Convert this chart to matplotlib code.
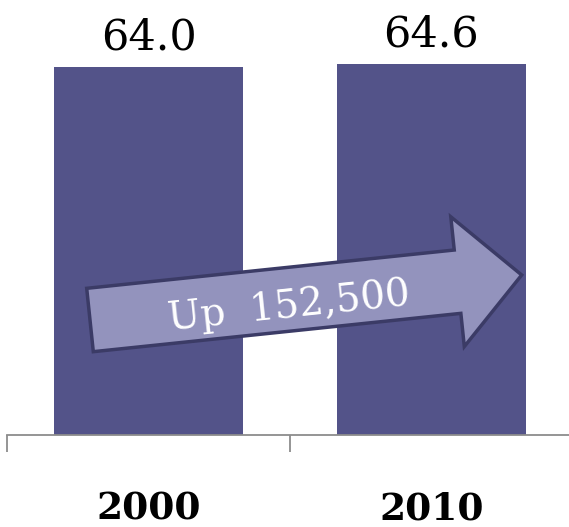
import matplotlib.pyplot as plt
from matplotlib.patches import FancyArrow

# Data
years = ['2000', '2010']
values = [64.0, 64.6]
change_label = 'Up  152,500'

bar_color = '#535389'
arrow_fill = '#9393bd'
arrow_edge = '#3b3b66'

fig = plt.figure(figsize=(5.69, 5.27), dpi=100)
# axes run a little past the right edge, like the original
ax = fig.add_axes([7 / 569, 1 - 435 / 527, 566 / 569, 435 / 527])

x = range(len(years))
bars = ax.bar(x, values, width=0.667, color=bar_color)
ax.bar_label(bars, labels=[f'{v:.1f}' for v in values], padding=6,
             fontsize=31, family='DejaVu Serif')

ax.set_xlim(-0.5, 1.5)
ax.set_ylim(0, 75.7)

for side in ['top', 'right', 'left']:
    ax.spines[side].set_visible(False)
ax.spines['bottom'].set_color('#8c8c8c')
ax.spines['bottom'].set_linewidth(1.3)
ax.set_yticks([])

# category boundary ticks, labels in between
ax.set_xticks([-0.5, 0.5, 1.5], minor=True)
ax.tick_params(axis='x', which='minor', length=12.5, width=1.3, color='#8c8c8c')
ax.set_xticks(list(x), labels=years)
ax.tick_params(axis='x', which='major', length=0, pad=40)
for lbl in ax.get_xticklabels():
    lbl.set_fontsize(27)
    lbl.set_fontweight('bold')
    lbl.set_family('DejaVu Serif')

# overlay in pixel coords for the arrow annotation
ov = fig.add_axes([0, 0, 1, 1])
ov.set_xlim(0, 569)
ov.set_ylim(527, 0)
ov.axis('off')
ov.add_patch(FancyArrow(90, 320, 431.7, -45, width=63.7, head_width=130.5,
                        head_length=64.5, length_includes_head=True,
                        facecolor=arrow_fill, edgecolor=arrow_edge, linewidth=2.5))
ov.text(289, 307, change_label, color='white', fontsize=28, family='DejaVu Serif',
        rotation=6, ha='center', va='center', rotation_mode='anchor')

fig.savefig('out.png', dpi=100)
